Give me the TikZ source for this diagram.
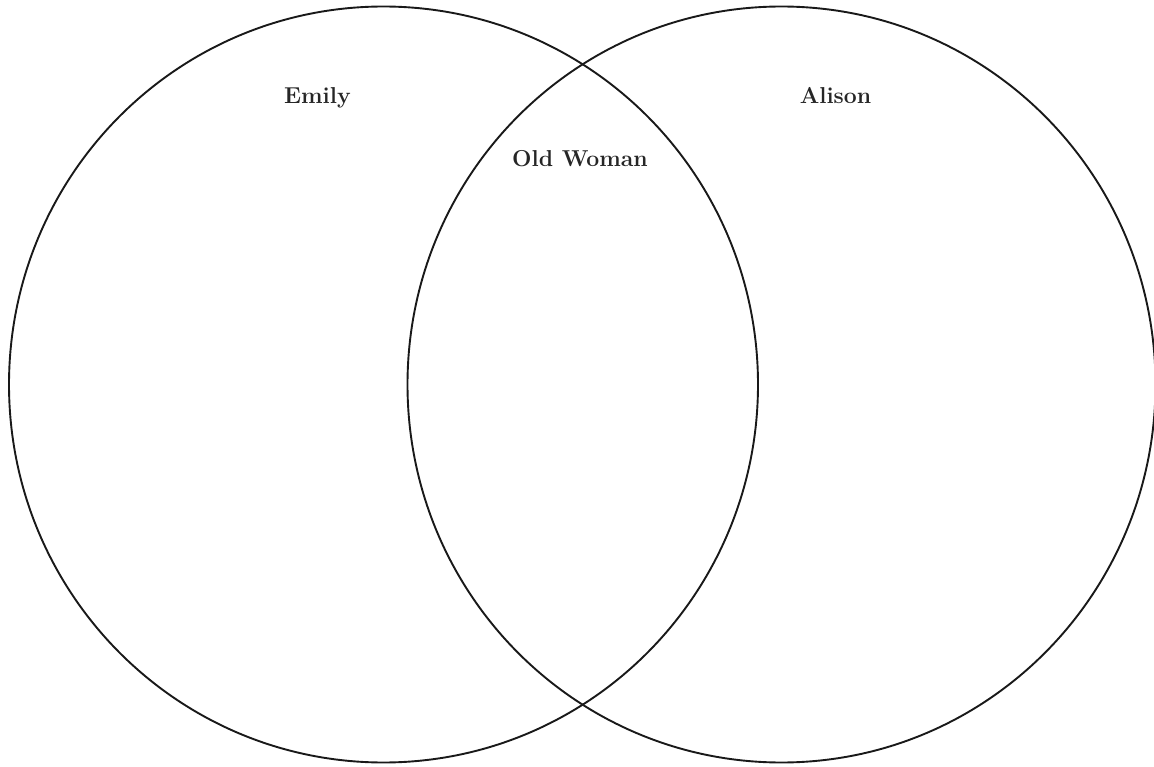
\documentclass[tikz,border=0pt]{standalone}
\begin{document}
\begin{tikzpicture}[x=1pt,y=-1pt,
  ring/.style={draw=black!90,line width=1.9pt},
  lbl/.style={anchor=base,font=\fontsize{23}{27}\selectfont\bfseries,text=black!85}]
\useasboundingbox (0,0) rectangle (1154,767);
\clip (0,0) rectangle (1154,767);
\draw[ring] (383.5,384.5) ellipse [x radius=374.5, y radius=378];
\draw[ring] (781.5,384.5) ellipse [x radius=374, y radius=378];
\node[lbl] (emily) at (317.5,103.5) {Emily};
\node[lbl] (alison) at (835.5,103.5) {Alison};
\node[lbl] (old) at (580,167) {Old Woman};
\end{tikzpicture}
\end{document}
